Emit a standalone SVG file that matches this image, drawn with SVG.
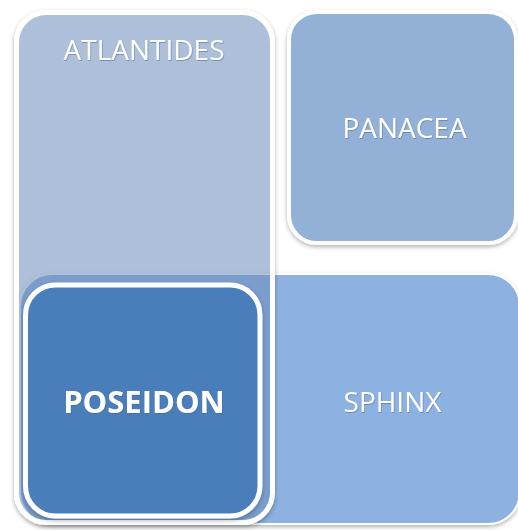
<svg xmlns="http://www.w3.org/2000/svg" width="518" height="530" viewBox="0 0 518 530">
  <defs>
    <filter id="shadow" x="-10%" y="-10%" width="120%" height="120%">
      <feDropShadow dx="0" dy="2" stdDeviation="2" flood-color="#000" flood-opacity="0.3"/>
    </filter>
    <!-- shadow kept outside the shape, so a translucent fill is not darkened -->
    <filter id="outerShadow" x="-10%" y="-10%" width="120%" height="120%">
      <feComponentTransfer in="SourceAlpha" result="solid">
        <feFuncA type="linear" slope="10"/>
      </feComponentTransfer>
      <feGaussianBlur in="solid" stdDeviation="2"/>
      <feOffset dy="2" result="blur"/>
      <feFlood flood-color="#000" flood-opacity="0.3"/>
      <feComposite in2="blur" operator="in"/>
      <feComposite in2="solid" operator="out" result="sh"/>
      <feMerge>
        <feMergeNode in="sh"/>
        <feMergeNode in="SourceGraphic"/>
      </feMerge>
    </filter>
    <filter id="glow" x="-10%" y="-30%" width="120%" height="160%">
      <feDropShadow dx="0.6" dy="0.8" stdDeviation="0.6" flood-color="#3a5f94" flood-opacity="0.6"/>
    </filter>
  </defs>
  <style>
    .box { stroke: #ffffff; }
    .label { font-family: "Open Sans", "Noto Sans", sans-serif; font-size: 28px; fill: #ffffff; text-anchor: middle; filter: url(#glow); }
    .bold { font-weight: bold; font-size: 31px; }
  </style>
  <rect width="518" height="530" fill="#ffffff"/>

  <!-- lower band -->
  <g id="sphinx">
    <rect class="box" x="20" y="274" width="500" height="250" rx="32" fill="#8db2e2" stroke-width="2" filter="url(#shadow)"/>
    <text class="label" x="392.5" y="412">SPHINX</text>
  </g>

  <!-- upper-right tile -->
  <g id="panacea">
    <rect class="box" x="289" y="12" width="227" height="231" rx="28" fill="#93b0d7" stroke-width="4" filter="url(#shadow)"/>
    <text class="label" x="404.5" y="138">PANACEA</text>
  </g>

  <!-- tall translucent column -->
  <g id="atlantides">
    <rect class="box" x="16.5" y="12.5" width="256" height="510" rx="30" fill="#6c8dbb" fill-opacity="0.56" stroke-width="5" filter="url(#outerShadow)"/>
    <text class="label" x="144" y="60">ATLANTIDES</text>
  </g>

  <!-- highlighted tile -->
  <g id="poseidon">
    <rect class="box" x="25.5" y="285" width="234.5" height="231" rx="30" fill="#4a7ebb" stroke-width="5" filter="url(#shadow)"/>
    <text class="label bold" x="144" y="413">POSEIDON</text>
  </g>
</svg>
